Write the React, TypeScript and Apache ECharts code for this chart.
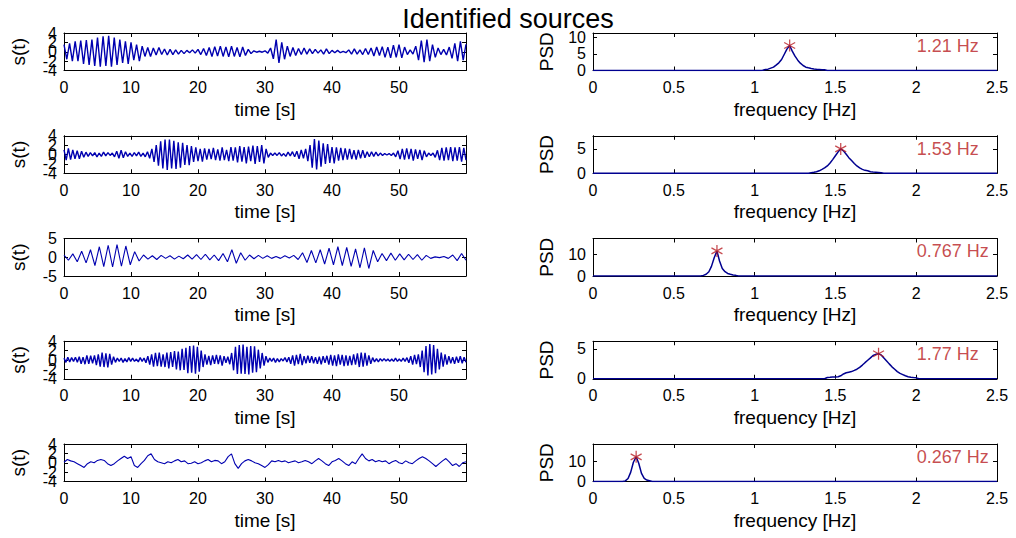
import React, { useEffect, useRef } from 'react';
import * as echarts from 'echarts';

const FONT = '"Liberation Sans", Arial, Helvetica, sans-serif';

const titleText = 'Identified sources';
const timeName = 'time [s]';
const freqName = 'frequency [Hz]';
const signalName = 's(t)';
const psdName = 'PSD';

// tick labels
const timeTicks = [0, 10, 20, 30, 40, 50];
const timeRange = [0, 60];
const freqTicks = [0, 0.5, 1, 1.5, 2, 2.5];
const freqRange = [0, 2.5];
const signalYTicks = [
  [-4, -2, 0, 2, 4],
  [-4, -2, 0, 2, 4],
  [-5, 0, 5],
  [-4, -2, 0, 2, 4],
  [-4, -2, 0, 2, 4],
];
const signalYRanges = [[-4, 4], [-4, 4], [-5, 5], [-4, 4], [-4, 4]];
const psdYTicks = [[0, 5, 10], [0, 5], [0, 10], [0, 5], [0, 10]];
const psdYMax = [11.25, 7.7, 17.5, 6.3, 18.5];

// peaks
const peakFreqs = [1.217, 1.533, 0.767, 1.767, 0.267];
const peakPsd = [7.5, 5.0, 11.7, 4.2, 12.2];
const peakLabels = ['1.21 Hz', '1.53 Hz', '0.767 Hz', '1.77 Hz', '0.267 Hz'];

// time signals (successive extrema, spanning 0–60 s)
const signal1 = [
  1.5, -1.6, 1.8, -2.0, 2.2, -2.0, 2.4, -2.6, 2.5, -2.8, 2.6, -3.0,
  3.0, -3.2, 3.3, -3.0, 3.4, -3.2, 3.0, -2.8, 2.6, -2.4, 2.2, -2.6,
  2.0, -1.8, 1.5, -2.0, 1.2, -1.0, 0.9, -1.0, 0.8, -0.7, 0.9, -0.6,
  0.6, -0.7, 0.5, -0.6, 0.4, -0.5, 0.3, -0.4, 0.3, -0.2, 0.4, -0.3,
  0.5, -0.6, 0.7, -0.8, 0.9, -1.0, 1.1, -0.9, 1.2, -1.0, 1.0, -1.1,
  1.2, -1.0, 0.9, -1.1, 1.0, -0.8, 0.5, -0.4, 0.2, -0.1, 0.1, -0.1,
  0.2, -0.3, 0.8, -1.5, 2.6, -2.4, 2.0, -1.6, 1.2, -1.0, 0.9, -0.8,
  0.7, -0.6, 0.8, -0.5, 0.6, -0.4, 0.5, -0.3, 0.4, -0.5, 0.6, -0.4,
  0.3, -0.2, 0.3, -0.2, 0.1, -0.2, 0.4, -0.5, 0.6, -0.5, 0.4, -0.6,
  0.7, -0.6, 0.8, -0.9, 1.0, -0.8, 1.1, -1.2, 1.0, -1.3, 1.4, -1.2,
  1.5, -1.3, 1.0, -0.6, 0.4, -0.5, 1.2, -1.8, 2.4, -2.2, 2.6, -2.0,
  1.5, -1.2, 0.8, -0.6, 0.5, -0.7, 1.0, -1.4, 1.8, -2.0, 2.2, -1.8, 1.6,
];

const signal2 = [
  1.0, -1.2, 1.3, -1.1, 1.0, -0.9, 0.8, -0.9, 0.7, -0.6, 0.5, -0.4, 0.4, -0.3, 0.4, -0.5,
  0.3, -0.4, 0.5, -0.3, 0.4, -0.2, 0.3, -0.5, 0.7, -0.8, 0.9, -0.7, 0.6, -0.4, 0.3, -0.4,
  0.4, -0.3, 0.5, -0.4, 0.3, -0.5, 0.6, -0.8, 1.2, -1.6, 2.0, -2.4, 2.8, -3.0, 3.2, -3.3,
  3.2, -3.0, 2.9, -3.1, 2.6, -2.8, 2.5, -2.2, 2.0, -2.3, 1.8, -1.6, 1.5, -1.4, 1.2, -1.5,
  1.3, -1.1, 1.2, -1.0, 1.4, -1.2, 1.1, -1.3, 1.5, -1.2, 1.0, -1.4, 1.6, -1.3, 1.5, -1.7,
  1.8, -1.5, 1.6, -1.9, 1.7, -1.4, 1.9, -2.0, 1.8, -1.6, 2.0, -1.9, 1.2, -0.6, 0.3, -0.2,
  0.3, -0.2, 0.4, -0.3, 0.2, -0.4, 0.5, -0.3, 0.6, -0.5, 0.7, -0.9, 1.0, -0.8, 1.2, -1.4,
  2.0, -2.8, 3.3, -3.2, 3.0, -2.6, 2.4, -2.0, 2.2, -1.8, 1.6, -1.9, 1.5, -1.3, 1.4, -1.2,
  1.3, -1.1, 1.2, -1.0, 0.9, -1.1, 1.0, -0.8, 0.9, -0.7, 0.6, -0.5, 0.6, -0.4, 0.5, -0.3,
  0.3, -0.2, 0.2, -0.1, 0.2, -0.2, 0.3, -0.5, 0.8, -1.0, 1.2, -1.1, 1.3, -1.0, 1.2, -1.3,
  1.1, -0.9, 1.0, -1.2, 0.8, -0.5, 0.3, -0.2, 0.3, -0.6, 0.9, -1.2, 1.4, -1.3, 1.5, -1.2,
  1.6, -1.4, 1.5, -1.3, 1.6, -1.5, 1.4, -1.2,
];

const signal3 = [
  0.6, -0.8, 0.9, -1.2, 1.6, -1.5, 2.0, -2.2,
  2.8, -2.5, 3.2, -2.6, 3.4, -2.4, 3.0, -2.0,
  1.5, -1.0, 0.6, -0.5, 0.4, -0.6, 0.5, -0.3,
  0.4, -0.5, 0.3, -0.4, 0.6, -0.5, 0.7, -0.6,
  0.8, -0.7, 0.6, -0.9, 1.0, -1.2, 2.0, -1.6,
  1.2, -0.8, 0.6, -0.4, 0.5, -0.3, 0.4, -0.3,
  0.2, -0.3, 0.4, -0.2, 0.5, -0.6, 1.2, -1.4,
  1.8, -1.5, 2.0, -1.8, 2.4, -2.0, 2.8, -2.2,
  2.6, -2.4, 2.2, -2.8, 2.5, -3.0, 1.8, -1.2,
  1.0, -0.9, 1.1, -0.8, 0.9, -0.7, 0.8, -0.6,
  0.7, -0.8, 0.5, -0.3, 0.1, -0.1, 0.2, -0.3,
  0.6, -0.9, 1.0, -0.8,
];

const signal4 = [
  0.4, -0.5, 0.6, -0.4, 0.5, -0.3, 0.6, -0.5, 0.7, -0.8, 0.6, -0.9, 1.0, -0.8, 0.9, -0.7, 1.0, -1.1,
  1.2, -1.4, 1.6, -1.5, 1.4, -1.6, 1.3, -1.0, 0.7, -0.5, 0.4, -0.3, 0.4, -0.5, 0.3, -0.4, 0.5, -0.3,
  0.4, -0.3, 0.2, -0.4, 0.5, -0.3, 0.4, -0.6, 0.8, -1.0, 1.2, -1.4, 1.5, -1.3, 1.6, -1.4, 1.2, -1.5,
  1.6, -1.8, 1.7, -1.5, 1.9, -2.0, 1.8, -2.2, 2.4, -2.1, 2.6, -2.8, 3.0, -2.7, 3.1, -2.9, 2.8, -2.5,
  2.0, -1.5, 1.2, -1.0, 0.9, -1.1, 1.0, -0.8, 1.1, -0.9, 1.0, -1.2, 0.8, -0.6, 0.7, -0.9, 1.5, -2.2,
  2.8, -3.0, 3.2, -2.9, 3.3, -3.0, 2.8, -3.1, 3.0, -2.7, 2.9, -2.6, 2.2, -1.8, 1.5, -1.2, 0.8, -0.5,
  0.4, -0.3, 0.4, -0.5, 0.3, -0.4, 0.3, -0.2, 0.5, -0.4, 0.6, -0.8, 1.0, -1.2, 1.1, -0.9, 1.3, -1.1,
  0.8, -0.7, 0.9, -0.6, 0.8, -0.7, 0.6, -0.8, 0.7, -0.9, 0.8, -0.6, 0.9, -1.0, 1.1, -1.2, 1.0, -1.3,
  1.2, -1.0, 1.1, -1.3, 1.0, -1.2, 0.9, -1.1, 1.2, -1.0, 1.4, -1.5, 1.6, -1.4, 1.5, -1.2, 1.0, -0.8,
  0.5, -0.4, 0.3, -0.4, 0.3, -0.2, 0.3, -0.2, 0.2, -0.3, 0.2, -0.3, 0.4, -0.3, 0.2, -0.3, 0.4, -0.3,
  0.5, -0.6, 0.8, -1.0, 1.1, -0.9, 1.2, -1.5, 2.0, -2.6, 3.0, -3.3, 3.4, -3.1, 3.2, -2.8, 2.4, -2.0,
  1.6, -1.4, 1.2, -1.0, 0.8, -0.7, 0.6, -0.8, 0.7, -0.6, 0.8, -0.7, 0.6, -0.5,
];

const signal5 = [
  0.1, 0.7, 0.4, 0.2, -0.2, -0.6, -1.0, -0.2, 0.2, 0.0,
  0.5, 0.7, 0.5, -0.2, -0.6, -0.2, 0.4, 0.9, 1.4, 0.9,
  1.3, -0.6, -1.0, -0.2, 0.5, 1.5, 1.9, 0.7, 0.2, 0.0,
  -0.2, 0.2, 0.0, 0.4, 0.7, 0.2, 0.4, -0.2, -0.1, 0.2,
  -0.2, 0.0, 0.4, 0.7, 0.2, 0.5, 0.4, -0.2, 0.2, 1.3,
  1.9, -0.2, -1.2, -0.2, 0.4, 0.7, 0.4, 0.0, -0.2, -0.6,
  -1.0, -0.4, 0.4, 0.2, 0.5, 0.2, 0.4, 0.0, 0.2, 0.4,
  0.0, 0.2, 0.5, 0.2, -0.2, 0.4, 0.9, 0.4, -0.2, -0.6,
  0.2, 0.5, 0.9, 0.4, -0.2, -0.6, 0.2, -0.2, 0.9, 1.9,
  0.9, 0.4, 0.7, 0.2, 0.5, 0.2, 0.4, -0.2, 0.2, 0.5,
  0.0, -0.2, 0.4, 0.0, -0.2, 0.4, 0.9, 1.3, 0.9, 0.4,
  -0.2, -0.8, -0.2, 0.4, 0.9, 0.2, -0.6, -0.2, -0.8, 0.0,
  0.2,
];

// PSD curves
const psd1Freq = [0, 1.033, 1.05, 1.067, 1.083, 1.1, 1.117, 1.133, 1.15, 1.167, 1.183, 1.2, 1.217, 1.233, 1.25, 1.267, 1.283, 1.3, 1.317, 1.333, 1.35, 1.367, 1.383, 1.4, 1.417, 1.433, 1.45, 2.5];
const psd1Val = [0, 0, 0.1, 0.3, 0.4, 0.7, 1.0, 1.6, 2.3, 3.3, 4.8, 6.4, 7.5, 5.8, 4.3, 3.1, 2.2, 1.5, 1.0, 0.8, 0.6, 0.45, 0.35, 0.3, 0.25, 0.2, 0, 0];

const psd2Freq = [0, 1.333, 1.35, 1.367, 1.383, 1.4, 1.417, 1.433, 1.45, 1.467, 1.483, 1.5, 1.517, 1.533, 1.55, 1.567, 1.583, 1.6, 1.617, 1.633, 1.65, 1.667, 1.683, 1.7, 1.717, 1.733, 1.75, 1.767, 1.783, 1.8, 2.5];
const psd2Val = [0, 0, 0.1, 0.2, 0.3, 0.5, 0.8, 1.1, 1.5, 2.1, 2.8, 3.6, 4.4, 5.0, 4.6, 3.9, 3.2, 2.6, 2.0, 1.5, 1.1, 0.8, 0.6, 0.5, 0.3, 0.25, 0.2, 0.15, 0.1, 0, 0];

const psd3Freq = [0, 0.667, 0.683, 0.7, 0.717, 0.733, 0.75, 0.767, 0.783, 0.8, 0.817, 0.833, 0.85, 0.867, 0.883, 0.9, 2.5];
const psd3Val = [0, 0, 0.3, 0.8, 2.0, 4.5, 8.5, 11.7, 7.0, 3.5, 2.0, 1.2, 0.8, 0.5, 0.3, 0, 0];

const psd4Freq = [0, 1.433, 1.45, 1.467, 1.483, 1.5, 1.517, 1.533, 1.55, 1.567, 1.583, 1.6, 1.617, 1.633, 1.65, 1.667, 1.683, 1.7, 1.717, 1.733, 1.75, 1.767, 1.783, 1.8, 1.817, 1.833, 1.85, 1.867, 1.883, 1.9, 1.917, 1.933, 1.95, 1.967, 1.983, 2.0, 2.017, 2.5];
const psd4Val = [0, 0, 0.2, 0.25, 0.3, 0.3, 0.35, 0.5, 0.8, 1.0, 1.1, 1.2, 1.4, 1.6, 1.9, 2.3, 2.7, 3.1, 3.5, 3.9, 4.1, 4.2, 4.0, 3.5, 3.0, 2.5, 2.0, 1.6, 1.2, 0.9, 0.7, 0.5, 0.35, 0.25, 0.2, 0.15, 0, 0];

const psd5Freq = [0, 0.183, 0.2, 0.217, 0.233, 0.25, 0.267, 0.283, 0.3, 0.317, 0.333, 0.35, 0.367, 2.5];
const psd5Val = [0, 0, 0.3, 1.5, 4.5, 9.5, 12.2, 9.0, 4.0, 1.5, 0.7, 0.4, 0, 0];

const signals = [signal1, signal2, signal3, signal4, signal5];
const signalWidths = [1.4, 1.4, 1.1, 1.4, 1.1];
const psdFreqs = [psd1Freq, psd2Freq, psd3Freq, psd4Freq, psd5Freq];
const psdVals = [psd1Val, psd2Val, psd3Val, psd4Val, psd5Val];

// layout
const LEFT_X = 64;
const LEFT_W = 402;
const RIGHT_X = 593;
const RIGHT_W = 404;
const ROW_TOP0 = 33;
const ROW_STEP = 102.75;
const BOX_H = 37.5;

const SIGNAL_COLOR = '#0000b0';
const PSD_COLOR = '#000090';
const RED = '#b81c22';

const STAR = 'path://M5,0L5,10M0.67,2.5L9.33,7.5M0.67,7.5L9.33,2.5';

function fmt(ticks: number[]) {
  return (v: number) => (ticks.some((t) => Math.abs(t - v) < 1e-6) ? String(v) : '');
}

export default function App() {
  const ref = useRef<HTMLDivElement>(null);

  useEffect(() => {
    if (!ref.current) return;
    const chart = echarts.init(ref.current, undefined, { renderer: 'svg' });

    const grids: any[] = [];
    const xAxes: any[] = [];
    const yAxes: any[] = [];
    const series: any[] = [];

    const axisLine = { show: true, onZero: false, lineStyle: { color: '#000', width: 1 } };
    const axisTick = { show: true, inside: true, length: 4, lineStyle: { color: '#000', width: 1 } };
    const labelBase = { show: true, fontSize: 16, color: '#000', fontFamily: FONT, hideOverlap: false };

    const addPanel = (
      left: number,
      width: number,
      top: number,
      xr: number[],
      xTicks: number[],
      yr: number[],
      yTicks: number[],
      xName: string,
      yName: string,
      yNameGap: number
    ) => {
      const gi = grids.length;
      grids.push({ left, top, width, height: BOX_H, containLabel: false, show: false });
      const xInt = xTicks[1] - xTicks[0];
      const yInt = yTicks[1] - yTicks[0];
      const xBase = {
        gridIndex: gi, type: 'value', min: xr[0], max: xr[1], interval: xInt,
        axisLine, axisTick, splitLine: { show: false },
      };
      const yBase = {
        gridIndex: gi, type: 'value', min: yr[0], max: yr[1], interval: yInt,
        axisLine, axisTick, splitLine: { show: false },
      };
      const xi = xAxes.length;
      xAxes.push({
        ...xBase,
        position: 'bottom',
        axisLabel: { ...labelBase, margin: 9, formatter: fmt(xTicks), showMinLabel: true, showMaxLabel: true },
        name: xName,
        nameLocation: 'middle',
        nameGap: 29,
        nameTextStyle: { fontSize: 19, color: '#000', fontFamily: FONT },
      });
      xAxes.push({ ...xBase, position: 'top', axisLabel: { show: false } });

      // labels of even-indexed ticks on the main axis, odd-indexed ones on an overlay axis
      const evenTicks = yTicks.filter((_, i) => i % 2 === 0);
      const oddTicks = yTicks.filter((_, i) => i % 2 === 1);
      const yi = yAxes.length;
      yAxes.push({
        ...yBase,
        position: 'left',
        axisLabel: { ...labelBase, margin: 7, formatter: fmt(evenTicks), showMinLabel: true, showMaxLabel: true },
        name: yName,
        nameLocation: 'middle',
        nameRotate: 90,
        nameGap: yNameGap,
        nameTextStyle: { fontSize: 19, color: '#000', fontFamily: FONT },
      });
      yAxes.push({ ...yBase, position: 'right', axisLabel: { show: false } });
      if (oddTicks.length) {
        yAxes.push({
          ...yBase,
          position: 'left',
          offset: 0,
          axisLine: { show: false, onZero: false },
          axisTick: { show: false },
          axisLabel: { ...labelBase, margin: 7, formatter: fmt(oddTicks), showMinLabel: false, showMaxLabel: false },
        });
      }
      return { xi, yi };
    };

    for (let r = 0; r < 5; r++) {
      const top = ROW_TOP0 + r * ROW_STEP;
      // time signal
      const a = addPanel(LEFT_X, LEFT_W, top, timeRange, timeTicks, signalYRanges[r], signalYTicks[r], timeName, signalName, 36);
      const sig = signals[r];
      const dt = (timeRange[1] - timeRange[0]) / (sig.length - 1);
      series.push({
        type: 'line',
        xAxisIndex: a.xi,
        yAxisIndex: a.yi,
        data: sig.map((v, i) => [timeRange[0] + i * dt, v]),
        symbol: 'none',
        showSymbol: false,
        silent: true,
        lineStyle: { color: SIGNAL_COLOR, width: signalWidths[r] },
        z: 3,
      });

      // PSD
      const b = addPanel(RIGHT_X, RIGHT_W, top, freqRange, freqTicks, [0, psdYMax[r]], psdYTicks[r], freqName, psdName, 37);
      series.push({
        type: 'line',
        xAxisIndex: b.xi,
        yAxisIndex: b.yi,
        data: psdFreqs[r].map((f, i) => [f, psdVals[r][i]]),
        symbol: 'none',
        showSymbol: false,
        silent: true,
        lineStyle: { color: PSD_COLOR, width: 1.5 },
        z: 3,
      });
      series.push({
        type: 'scatter',
        xAxisIndex: b.xi,
        yAxisIndex: b.yi,
        data: [[peakFreqs[r], peakPsd[r]]],
        symbol: STAR,
        symbolSize: [11, 12],
        silent: true,
        itemStyle: { color: 'rgba(0,0,0,0)', borderColor: RED, borderWidth: 1.3 },
        z: 4,
      });
      series.push({
        type: 'scatter',
        xAxisIndex: b.xi,
        yAxisIndex: b.yi,
        data: [[freqTicks[4], peakPsd[r]]],
        symbol: 'circle',
        symbolSize: 1,
        silent: true,
        itemStyle: { color: 'rgba(0,0,0,0)' },
        label: {
          show: true,
          position: 'right',
          distance: 0,
          formatter: peakLabels[r],
          color: RED,
          fontSize: 18,
          fontFamily: FONT,
        },
        z: 4,
      });
    }

    chart.setOption({
      animation: false,
      backgroundColor: '#ffffff',
      title: {
        text: titleText,
        left: 'center',
        top: 0,
        textStyle: { fontSize: 27, lineHeight: 28, fontWeight: 'normal', color: '#000', fontFamily: FONT },
      },
      grid: grids,
      xAxis: xAxes,
      yAxis: yAxes,
      series,
    });

    return () => chart.dispose();
  }, []);

  return (
    <div
      ref={ref}
      style={{ position: 'absolute', left: 0, top: 0, width: 1016, height: 538, background: '#fff' }}
    />
  );
}
